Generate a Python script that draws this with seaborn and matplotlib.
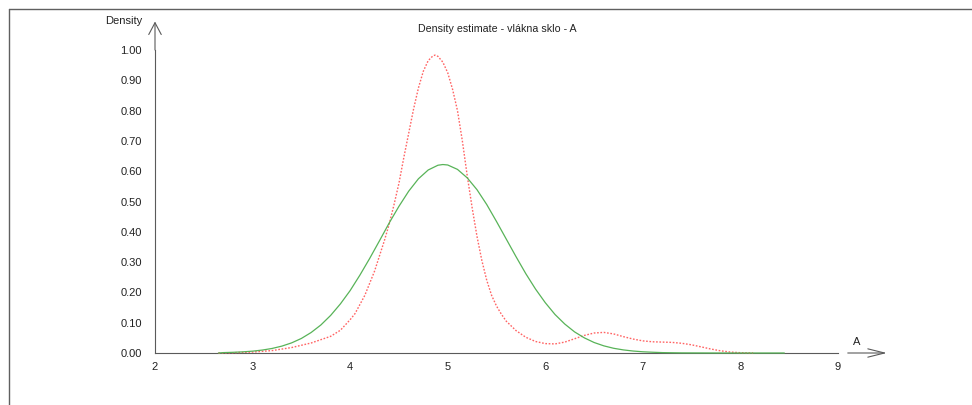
import matplotlib
matplotlib.use("Agg")
import matplotlib.pyplot as plt
from matplotlib.lines import Line2D
import seaborn as sns
import pandas as pd

# ---- data ----
green_x = [2.65, 2.7, 2.8, 2.9, 3.0, 3.1, 3.2, 3.3, 3.4, 3.5, 3.6, 3.7, 3.8,
           3.9, 4.0, 4.1, 4.2, 4.3, 4.4, 4.5, 4.6, 4.7, 4.8, 4.9, 4.95, 5.0,
           5.1, 5.2, 5.3, 5.4, 5.5, 5.6, 5.7, 5.8, 5.9, 6.0, 6.1, 6.2, 6.3,
           6.4, 6.5, 6.6, 6.7, 6.8, 6.9, 7.0, 7.1, 7.2, 7.3, 7.4, 7.8, 8.45]
green_y = [0.0, 0.0013, 0.0023, 0.0038, 0.0061, 0.0097, 0.015, 0.0227, 0.0334,
           0.048, 0.0676, 0.0925, 0.124, 0.162, 0.206, 0.257, 0.312, 0.370,
           0.429, 0.484, 0.534, 0.575, 0.604, 0.6197, 0.622, 0.6205, 0.606,
           0.578, 0.539, 0.49, 0.434, 0.376, 0.318, 0.262, 0.211, 0.166,
           0.127, 0.0955, 0.0697, 0.05, 0.0347, 0.0236, 0.0156, 0.0102,
           0.0065, 0.004, 0.0025, 0.0013, 0.0008, 0.0004, 0.0, 0.0]

red_x = [2.65, 2.8, 3.0, 3.2, 3.4, 3.6, 3.8, 3.9, 4.0, 4.05, 4.1, 4.15, 4.2,
         4.25, 4.3, 4.35, 4.4, 4.45, 4.5, 4.55, 4.6, 4.65, 4.7, 4.75, 4.8,
         4.85, 4.87, 4.9, 4.95, 5.0, 5.05, 5.1, 5.15, 5.2, 5.25, 5.3, 5.35,
         5.4, 5.45, 5.5, 5.55, 5.6, 5.7, 5.8, 5.9, 6.0, 6.1, 6.2, 6.3, 6.4,
         6.5, 6.6, 6.7, 6.8, 6.9, 7.0, 7.1, 7.2, 7.3, 7.4, 7.5, 7.6, 7.7, 7.8,
         7.9, 8.0, 8.13]
red_y = [0.0, 0.001, 0.003, 0.008, 0.018, 0.033, 0.055, 0.075, 0.11, 0.13,
         0.16, 0.19, 0.23, 0.27, 0.32, 0.37, 0.425, 0.49, 0.56, 0.645, 0.725,
         0.805, 0.875, 0.93, 0.965, 0.981, 0.983, 0.979, 0.96, 0.925, 0.87,
         0.80, 0.70, 0.585, 0.48, 0.385, 0.305, 0.24, 0.19, 0.155, 0.128,
         0.105, 0.074, 0.052, 0.038, 0.031, 0.030, 0.036, 0.047, 0.058, 0.066,
         0.068, 0.063, 0.054, 0.046, 0.040, 0.037, 0.036, 0.035, 0.032, 0.027,
         0.020, 0.013, 0.007, 0.003, 0.001, 0.0]

x_ticks = [2, 3, 4, 5, 6, 7, 8, 9]
y_ticks = [0.0, 0.1, 0.2, 0.3, 0.4, 0.5, 0.6, 0.7, 0.8, 0.9, 1.0]
title = "Density estimate - vlákna sklo - A"
x_label = "A"
y_label = "Density"

# ---- styling ----
sns.set_style("white")
plt.rcParams["font.family"] = ["Liberation Sans", "DejaVu Sans"]

W, H = 972, 405
fig = plt.figure(figsize=(W / 100, H / 100), dpi=100)
ax = fig.add_axes([155 / W, (H - 353) / H, 683 / W, 303 / H])
ax.set_xlim(2, 9)
ax.set_ylim(0, 1)

axis_col = "#5a5a5a"
txt_col = "#222222"

green_df = pd.DataFrame({"x": green_x, "y": green_y})
red_df = pd.DataFrame({"x": red_x, "y": red_y})
sns.lineplot(data=red_df, x="x", y="y", ax=ax, color="#ff6464", lw=1.0,
             clip_on=False, zorder=3)
ax.lines[-1].set_linestyle((0, (1.2, 1.2)))
sns.lineplot(data=green_df, x="x", y="y", ax=ax, color="#58b358", lw=0.9,
             clip_on=False, zorder=4)

for s in ["top", "right"]:
    ax.spines[s].set_visible(False)
for s in ["left", "bottom"]:
    ax.spines[s].set_color(axis_col)
    ax.spines[s].set_linewidth(0.8)
ax.spines["left"].set_bounds(0, 1)

ax.set_xticks(x_ticks)
ax.set_xticklabels([str(t) for t in x_ticks])
ax.set_yticks(y_ticks)
ax.set_yticklabels([f"{t:.2f}" for t in y_ticks])
ax.tick_params(axis="y", direction="out", length=7.2, width=0.8,
               color=axis_col, pad=2.4, labelsize=8, labelcolor=txt_col)
ax.tick_params(axis="x", direction="out", length=4.5, width=0.8,
               color=axis_col, pad=2.0, labelsize=8, labelcolor=txt_col)
ax.set_xlabel("")
ax.set_ylabel("")

# y-axis arrow
ax.annotate("", xy=(2, 1.094), xytext=(2, 1.0), xycoords="data",
            annotation_clip=False,
            arrowprops=dict(arrowstyle="->, head_length=0.85, head_width=0.45",
                            color=axis_col, lw=0.8, shrinkA=0, shrinkB=0,
                            mutation_scale=10))
# x-axis arrow
ax.annotate("", xy=(9.50, 0), xytext=(9.10, 0), xycoords="data",
            annotation_clip=False,
            arrowprops=dict(arrowstyle="->, head_length=1.2, head_width=0.3",
                            color=axis_col, lw=0.8, shrinkA=0, shrinkB=0,
                            mutation_scale=10))
ax.text(9.195, 0.035, x_label, ha="center", va="center", fontsize=8,
        color=txt_col)

fig.text(142 / W, 1 - 21 / H, y_label, ha="right", va="center", fontsize=8,
         color=txt_col)
fig.text(497 / W, 1 - 29 / H, title, ha="center", va="center", fontsize=7.7,
         color=txt_col)

# outer frame lines (top and left)
fig.add_artist(Line2D([9 / W, 1], [1 - 9 / H, 1 - 9 / H], color="#606060",
                      lw=1.0, transform=fig.transFigure))
fig.add_artist(Line2D([9 / W, 9 / W], [0, 1 - 9 / H], color="#606060",
                      lw=1.0, transform=fig.transFigure))

fig.savefig("out.png", dpi=100)
